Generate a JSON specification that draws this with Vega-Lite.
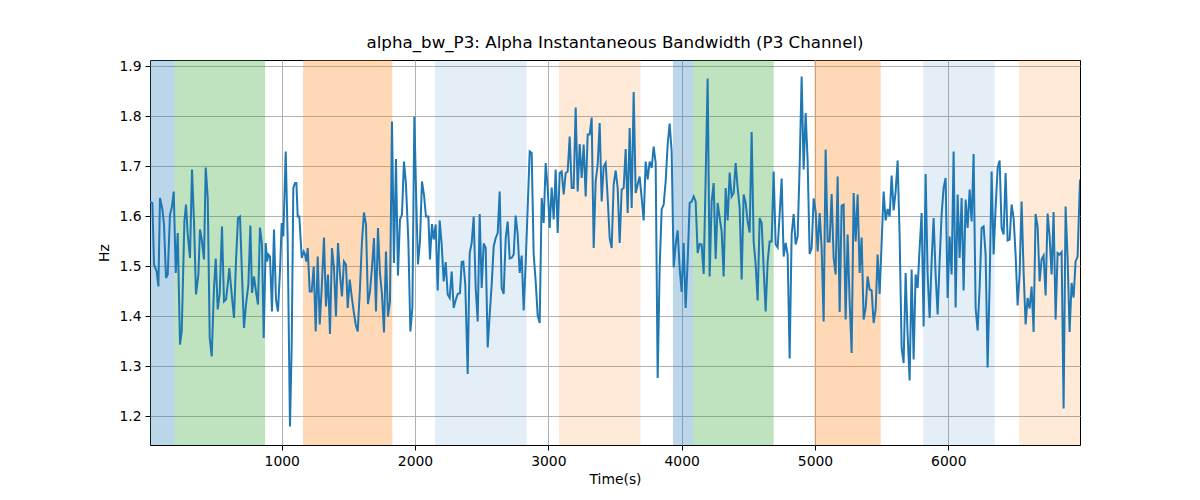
{
  "$schema": "https://vega.github.io/schema/vega-lite/v6.json",
  "width": 930,
  "height": 385,
  "autosize": "none",
  "padding": {"left": 150, "top": 60, "right": 120, "bottom": 55},
  "title": {
    "text": "alpha_bw_P3: Alpha Instantaneous Bandwidth (P3 Channel)",
    "font": "DejaVu Sans",
    "fontSize": 16.7,
    "fontWeight": "normal",
    "color": "#000",
    "offset": 7
  },
  "datasets": {
    "spans": [
      {"start": 12, "end": 197, "band": "b1"},
      {"start": 197, "end": 875, "band": "g1"},
      {"start": 1160, "end": 1830, "band": "o1"},
      {"start": 2150, "end": 2837, "band": "b2"},
      {"start": 3080, "end": 3692, "band": "o2"},
      {"start": 3935, "end": 4087, "band": "b1"},
      {"start": 4087, "end": 4690, "band": "g1"},
      {"start": 4995, "end": 5493, "band": "o1"},
      {"start": 5812, "end": 6348, "band": "b2"},
      {"start": 6530, "end": 6988, "band": "o2"}
    ],
    "bw": [
      {"t":12,"v":1.629},{"t":30,"v":1.626},{"t":42,"v":1.503},{"t":62,"v":1.489},{"t":75,"v":1.459},{"t":87,"v":1.636},{"t":105,"v":1.613},{"t":117,"v":1.583},{"t":132,"v":1.476},{"t":145,"v":1.483},{"t":162,"v":1.603},{"t":175,"v":1.616},{"t":190,"v":1.649},{"t":205,"v":1.486},{"t":220,"v":1.566},{"t":237,"v":1.343},{"t":250,"v":1.369},{"t":270,"v":1.589},{"t":282,"v":1.623},{"t":295,"v":1.563},{"t":312,"v":1.516},{"t":327,"v":1.693},{"t":342,"v":1.589},{"t":357,"v":1.443},{"t":375,"v":1.483},{"t":387,"v":1.573},{"t":400,"v":1.553},{"t":417,"v":1.513},{"t":430,"v":1.697},{"t":445,"v":1.636},{"t":460,"v":1.356},{"t":475,"v":1.319},{"t":492,"v":1.456},{"t":505,"v":1.515},{"t":520,"v":1.413},{"t":535,"v":1.446},{"t":552,"v":1.579},{"t":567,"v":1.429},{"t":582,"v":1.433},{"t":595,"v":1.463},{"t":607,"v":1.496},{"t":625,"v":1.443},{"t":642,"v":1.396},{"t":657,"v":1.509},{"t":672,"v":1.596},{"t":687,"v":1.599},{"t":702,"v":1.483},{"t":717,"v":1.376},{"t":732,"v":1.423},{"t":750,"v":1.463},{"t":765,"v":1.581},{"t":777,"v":1.446},{"t":792,"v":1.479},{"t":807,"v":1.449},{"t":822,"v":1.423},{"t":837,"v":1.577},{"t":852,"v":1.543},{"t":865,"v":1.356},{"t":880,"v":1.546},{"t":890,"v":1.509},{"t":900,"v":1.523},{"t":912,"v":1.519},{"t":927,"v":1.409},{"t":942,"v":1.573},{"t":957,"v":1.433},{"t":972,"v":1.409},{"t":987,"v":1.489},{"t":1000,"v":1.586},{"t":1012,"v":1.559},{"t":1030,"v":1.729},{"t":1045,"v":1.549},{"t":1062,"v":1.179},{"t":1075,"v":1.343},{"t":1087,"v":1.656},{"t":1100,"v":1.666},{"t":1110,"v":1.666},{"t":1120,"v":1.599},{"t":1132,"v":1.599},{"t":1150,"v":1.516},{"t":1165,"v":1.529},
      {"t":1175,"v":1.523},{"t":1185,"v":1.509},{"t":1195,"v":1.536},{"t":1210,"v":1.449},{"t":1225,"v":1.449},{"t":1240,"v":1.499},{"t":1255,"v":1.369},{"t":1270,"v":1.519},{"t":1285,"v":1.383},{"t":1300,"v":1.456},{"t":1317,"v":1.557},{"t":1332,"v":1.419},{"t":1347,"v":1.483},{"t":1362,"v":1.364},{"t":1377,"v":1.536},{"t":1392,"v":1.496},{"t":1407,"v":1.399},{"t":1422,"v":1.546},{"t":1437,"v":1.483},{"t":1452,"v":1.439},{"t":1467,"v":1.509},{"t":1482,"v":1.503},{"t":1495,"v":1.416},{"t":1510,"v":1.473},{"t":1525,"v":1.439},{"t":1540,"v":1.409},{"t":1555,"v":1.383},{"t":1570,"v":1.369},{"t":1587,"v":1.456},{"t":1602,"v":1.549},{"t":1617,"v":1.607},{"t":1632,"v":1.583},{"t":1647,"v":1.424},{"t":1662,"v":1.449},{"t":1677,"v":1.496},{"t":1692,"v":1.556},{"t":1707,"v":1.409},{"t":1722,"v":1.576},{"t":1737,"v":1.486},{"t":1752,"v":1.443},{"t":1767,"v":1.367},{"t":1782,"v":1.529},{"t":1797,"v":1.399},{"t":1812,"v":1.429},{"t":1827,"v":1.789},{"t":1842,"v":1.506},{"t":1857,"v":1.714},{"t":1872,"v":1.481},{"t":1887,"v":1.593},{"t":1902,"v":1.603},{"t":1917,"v":1.709},{"t":1932,"v":1.663},{"t":1950,"v":1.549},{"t":1965,"v":1.369},{"t":1980,"v":1.416},{"t":1995,"v":1.799},{"t":2010,"v":1.623},{"t":2022,"v":1.503},{"t":2037,"v":1.549},{"t":2052,"v":1.669},{"t":2067,"v":1.643},{"t":2082,"v":1.599},{"t":2100,"v":1.599},{"t":2112,"v":1.513},{"t":2127,"v":1.584},{"t":2140,"v":1.553},{"t":2155,"v":1.583},{"t":2170,"v":1.451},{"t":2185,"v":1.591},{"t":2200,"v":1.543},{"t":2215,"v":1.469},{"t":2230,"v":1.508},{"t":2245,"v":1.443},{"t":2260,"v":1.436},{"t":2275,"v":1.489},{"t":2290,"v":1.416},
      {"t":2302,"v":1.429},{"t":2320,"v":1.444},{"t":2337,"v":1.446},{"t":2350,"v":1.508},{"t":2362,"v":1.509},{"t":2377,"v":1.463},{"t":2395,"v":1.284},{"t":2410,"v":1.526},{"t":2425,"v":1.546},{"t":2440,"v":1.599},{"t":2455,"v":1.456},{"t":2470,"v":1.389},{"t":2485,"v":1.604},{"t":2500,"v":1.456},{"t":2515,"v":1.545},{"t":2530,"v":1.536},{"t":2545,"v":1.337},{"t":2560,"v":1.403},{"t":2575,"v":1.463},{"t":2590,"v":1.539},{"t":2605,"v":1.556},{"t":2620,"v":1.566},{"t":2635,"v":1.649},{"t":2650,"v":1.456},{"t":2665,"v":1.444},{"t":2680,"v":1.555},{"t":2695,"v":1.589},{"t":2710,"v":1.515},{"t":2725,"v":1.516},{"t":2740,"v":1.523},{"t":2755,"v":1.601},{"t":2770,"v":1.563},{"t":2785,"v":1.486},{"t":2800,"v":1.521},{"t":2815,"v":1.411},{"t":2830,"v":1.506},{"t":2845,"v":1.616},{"t":2860,"v":1.729},{"t":2875,"v":1.726},{"t":2890,"v":1.523},{"t":2905,"v":1.469},{"t":2920,"v":1.401},{"t":2935,"v":1.386},{"t":2950,"v":1.636},{"t":2965,"v":1.586},{"t":2980,"v":1.706},{"t":2995,"v":1.656},{"t":3010,"v":1.576},{"t":3025,"v":1.657},{"t":3040,"v":1.593},{"t":3055,"v":1.693},{"t":3070,"v":1.566},{"t":3085,"v":1.686},{"t":3100,"v":1.689},{"t":3115,"v":1.643},{"t":3130,"v":1.686},{"t":3145,"v":1.689},{"t":3160,"v":1.759},{"t":3175,"v":1.656},{"t":3190,"v":1.656},{"t":3205,"v":1.817},{"t":3220,"v":1.649},{"t":3235,"v":1.744},{"t":3250,"v":1.676},{"t":3265,"v":1.743},{"t":3280,"v":1.639},{"t":3295,"v":1.763},{"t":3310,"v":1.763},{"t":3325,"v":1.797},{"t":3340,"v":1.536},{"t":3355,"v":1.669},{"t":3370,"v":1.703},{"t":3385,"v":1.786},{"t":3400,"v":1.629},{"t":3415,"v":1.699},
      {"t":3430,"v":1.706},{"t":3445,"v":1.636},{"t":3460,"v":1.556},{"t":3475,"v":1.536},{"t":3490,"v":1.663},{"t":3505,"v":1.691},{"t":3520,"v":1.656},{"t":3535,"v":1.546},{"t":3550,"v":1.653},{"t":3565,"v":1.656},{"t":3580,"v":1.734},{"t":3595,"v":1.606},{"t":3610,"v":1.776},{"t":3625,"v":1.616},{"t":3640,"v":1.848},{"t":3655,"v":1.646},{"t":3670,"v":1.663},{"t":3685,"v":1.679},{"t":3700,"v":1.636},{"t":3715,"v":1.591},{"t":3730,"v":1.709},{"t":3745,"v":1.673},{"t":3760,"v":1.709},{"t":3775,"v":1.696},{"t":3790,"v":1.739},{"t":3805,"v":1.706},{"t":3820,"v":1.276},{"t":3835,"v":1.496},{"t":3850,"v":1.613},{"t":3865,"v":1.623},{"t":3880,"v":1.669},{"t":3895,"v":1.743},{"t":3910,"v":1.785},{"t":3925,"v":1.729},{"t":3940,"v":1.497},{"t":3955,"v":1.543},{"t":3970,"v":1.571},{"t":3985,"v":1.496},{"t":4000,"v":1.448},{"t":4015,"v":1.546},{"t":4030,"v":1.416},{"t":4045,"v":1.509},{"t":4060,"v":1.626},{"t":4075,"v":1.629},{"t":4090,"v":1.639},{"t":4105,"v":1.629},{"t":4120,"v":1.526},{"t":4135,"v":1.544},{"t":4150,"v":1.543},{"t":4165,"v":1.484},{"t":4180,"v":1.676},{"t":4195,"v":1.875},{"t":4210,"v":1.479},{"t":4225,"v":1.629},{"t":4240,"v":1.666},{"t":4255,"v":1.514},{"t":4270,"v":1.626},{"t":4285,"v":1.597},{"t":4300,"v":1.569},{"t":4315,"v":1.479},{"t":4330,"v":1.656},{"t":4345,"v":1.591},{"t":4360,"v":1.687},{"t":4375,"v":1.639},{"t":4390,"v":1.646},{"t":4405,"v":1.706},{"t":4420,"v":1.656},{"t":4435,"v":1.616},{"t":4450,"v":1.473},{"t":4465,"v":1.643},{"t":4480,"v":1.626},{"t":4495,"v":1.589},{"t":4510,"v":1.567},{"t":4525,"v":1.768},{"t":4540,"v":1.549},
      {"t":4555,"v":1.503},{"t":4570,"v":1.431},{"t":4585,"v":1.596},{"t":4600,"v":1.586},{"t":4615,"v":1.496},{"t":4630,"v":1.409},{"t":4645,"v":1.509},{"t":4660,"v":1.549},{"t":4675,"v":1.549},{"t":4690,"v":1.689},{"t":4705,"v":1.543},{"t":4720,"v":1.537},{"t":4735,"v":1.603},{"t":4750,"v":1.675},{"t":4765,"v":1.519},{"t":4780,"v":1.546},{"t":4795,"v":1.523},{"t":4810,"v":1.315},{"t":4825,"v":1.563},{"t":4840,"v":1.604},{"t":4855,"v":1.543},{"t":4870,"v":1.559},{"t":4885,"v":1.699},{"t":4900,"v":1.879},{"t":4915,"v":1.693},{"t":4930,"v":1.806},{"t":4945,"v":1.709},{"t":4960,"v":1.524},{"t":4975,"v":1.536},{"t":4990,"v":1.635},{"t":5005,"v":1.609},{"t":5020,"v":1.529},{"t":5035,"v":1.606},{"t":5050,"v":1.536},{"t":5065,"v":1.389},{"t":5080,"v":1.733},{"t":5095,"v":1.549},{"t":5110,"v":1.549},{"t":5125,"v":1.644},{"t":5140,"v":1.516},{"t":5155,"v":1.483},{"t":5170,"v":1.679},{"t":5185,"v":1.408},{"t":5200,"v":1.621},{"t":5215,"v":1.623},{"t":5230,"v":1.393},{"t":5245,"v":1.563},{"t":5260,"v":1.429},{"t":5275,"v":1.326},{"t":5290,"v":1.646},{"t":5305,"v":1.549},{"t":5320,"v":1.643},{"t":5335,"v":1.486},{"t":5350,"v":1.557},{"t":5365,"v":1.393},{"t":5380,"v":1.416},{"t":5395,"v":1.479},{"t":5410,"v":1.453},{"t":5425,"v":1.451},{"t":5440,"v":1.386},{"t":5455,"v":1.413},{"t":5470,"v":1.523},{"t":5485,"v":1.444},{"t":5500,"v":1.546},{"t":5515,"v":1.649},{"t":5530,"v":1.591},{"t":5545,"v":1.614},{"t":5560,"v":1.599},{"t":5575,"v":1.681},{"t":5590,"v":1.611},{"t":5605,"v":1.649},{"t":5620,"v":1.711},{"t":5635,"v":1.559},{"t":5650,"v":1.336},{"t":5665,"v":1.306},
      {"t":5680,"v":1.486},{"t":5695,"v":1.363},{"t":5710,"v":1.271},{"t":5725,"v":1.493},{"t":5740,"v":1.313},{"t":5755,"v":1.483},{"t":5770,"v":1.456},{"t":5785,"v":1.536},{"t":5800,"v":1.606},{"t":5815,"v":1.379},{"t":5830,"v":1.684},{"t":5845,"v":1.483},{"t":5860,"v":1.396},{"t":5875,"v":1.509},{"t":5890,"v":1.596},{"t":5905,"v":1.483},{"t":5920,"v":1.403},{"t":5935,"v":1.509},{"t":5950,"v":1.603},{"t":5965,"v":1.656},{"t":5980,"v":1.676},{"t":5995,"v":1.436},{"t":6010,"v":1.559},{"t":6025,"v":1.483},{"t":6040,"v":1.729},{"t":6055,"v":1.417},{"t":6070,"v":1.643},{"t":6085,"v":1.516},{"t":6100,"v":1.636},{"t":6115,"v":1.451},{"t":6130,"v":1.633},{"t":6145,"v":1.576},{"t":6160,"v":1.653},{"t":6175,"v":1.589},{"t":6190,"v":1.724},{"t":6205,"v":1.416},{"t":6220,"v":1.371},{"t":6235,"v":1.456},{"t":6250,"v":1.576},{"t":6265,"v":1.579},{"t":6280,"v":1.523},{"t":6295,"v":1.297},{"t":6310,"v":1.463},{"t":6325,"v":1.689},{"t":6340,"v":1.523},{"t":6355,"v":1.616},{"t":6370,"v":1.696},{"t":6385,"v":1.711},{"t":6400,"v":1.576},{"t":6415,"v":1.563},{"t":6430,"v":1.686},{"t":6445,"v":1.551},{"t":6460,"v":1.553},{"t":6475,"v":1.623},{"t":6490,"v":1.596},{"t":6505,"v":1.523},{"t":6520,"v":1.421},{"t":6535,"v":1.483},{"t":6550,"v":1.629},{"t":6565,"v":1.489},{"t":6580,"v":1.383},{"t":6595,"v":1.436},{"t":6610,"v":1.415},{"t":6625,"v":1.459},{"t":6640,"v":1.368},{"t":6655,"v":1.604},{"t":6670,"v":1.579},{"t":6685,"v":1.469},{"t":6700,"v":1.513},{"t":6715,"v":1.521},{"t":6730,"v":1.441},{"t":6745,"v":1.605},{"t":6760,"v":1.559},{"t":6775,"v":1.483},{"t":6790,"v":1.608},{"t":6805,"v":1.393},{"t":6820,"v":1.526},{"t":6835,"v":1.523},{"t":6850,"v":1.528},{"t":6865,"v":1.215},{"t":6880,"v":1.619},{"t":6895,"v":1.515},{"t":6910,"v":1.368},{"t":6925,"v":1.466},{"t":6940,"v":1.437},{"t":6955,"v":1.509},{"t":6970,"v":1.519},{"t":6988,"v":1.673}
    ]
  },
  "layer": [
    {
      "data": {"name": "spans"},
      "mark": {"type": "rect"},
      "encoding": {
        "x": {"field": "start", "type": "quantitative", "scale": {"domain": [12, 6988], "nice": false, "zero": false}},
        "x2": {"field": "end"},
        "color": {
          "field": "band",
          "type": "nominal",
          "legend": null,
          "scale": {
            "domain": ["b1", "g1", "o1", "b2", "o2"],
            "range": ["rgba(31,119,180,0.3)", "rgba(44,160,44,0.3)", "rgba(255,127,14,0.3)", "rgba(31,119,180,0.12)", "rgba(255,127,14,0.16)"]
          }
        }
      }
    },
    {
      "data": {"name": "bw"},
      "mark": {"type": "line", "color": "#1f77b4", "strokeWidth": 2, "clip": true},
      "encoding": {
        "x": {
          "field": "t",
          "type": "quantitative",
          "title": "Time(s)",
          "scale": {"domain": [12, 6988], "nice": false, "zero": false},
          "axis": {"values": [1000, 2000, 3000, 4000, 5000, 6000], "format": "d"}
        },
        "y": {
          "field": "v",
          "type": "quantitative",
          "title": "Hz",
          "scale": {"domain": [1.142, 1.912], "nice": false, "zero": false},
          "axis": {"values": [1.2, 1.3, 1.4, 1.5, 1.6, 1.7, 1.8, 1.9], "format": ".1f"}
        }
      }
    }
  ],
  "config": {
    "font": "DejaVu Sans",
    "view": {"stroke": "#000", "strokeWidth": 1},
    "axis": {
      "grid": true,
      "gridColor": "#b0b0b0",
      "gridWidth": 1,
      "domain": false,
      "tickColor": "#000",
      "tickSize": 5,
      "labelFont": "DejaVu Sans",
      "labelFontSize": 13.9,
      "labelColor": "#000",
      "titleFont": "DejaVu Sans",
      "titleFontSize": 13.9,
      "titleFontWeight": "normal",
      "titleColor": "#000",
      "labelPadding": 4
    },
    "axisX": {"titlePadding": 5},
    "axisY": {"titlePadding": 7}
  }
}
